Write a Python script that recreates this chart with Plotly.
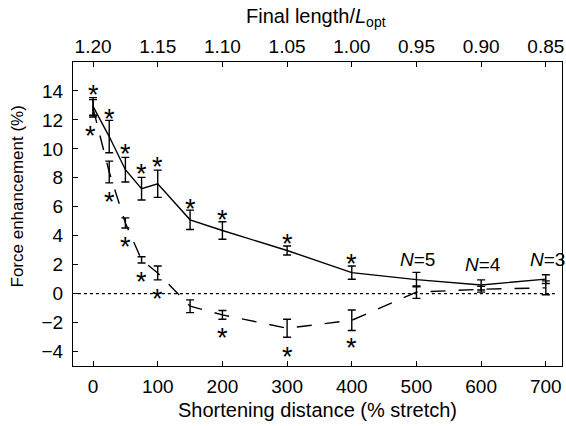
import plotly.graph_objects as go

# Data
distance = [0, 25, 50, 75, 100, 150, 200, 300, 400, 500, 600, 700]
solid_y = [12.93, 10.85, 8.56, 7.25, 7.59, 5.1, 4.36, 2.98, 1.45, 0.97, 0.6, 1.0]
solid_err = [0.61, 1.12, 0.85, 0.78, 0.94, 0.67, 0.6, 0.31, 0.46, 0.5, 0.35, 0.3]
dashed_y = [12.8, 8.4, 4.88, 2.33, 1.43, -0.87, -1.47, -2.39, -1.84, 0.1, 0.3, 0.4]
dashed_err = [0.6, 0.75, 0.35, 0.22, 0.48, 0.44, 0.3, 0.62, 0.71, 0.43, 0.2, 0.48]

star_above_x = [0, 25, 50, 75, 100, 150, 200, 300, 400]
star_above_y = [14.17, 12.55, 10.14, 8.72, 9.22, 6.35, 5.59, 3.93, 2.55]
star_below_x = [-4.6, 25, 50, 75, 100, 200, 300, 400]
star_below_y = [11.4, 6.8, 3.72, 1.29, 0.14, -2.59, -3.86, -3.28]

n_labels = ["N=5", "N=4", "N=3"]
n_x = [502, 603, 703]
n_y = [2.37, 1.98, 2.37]

bottom_ticks = [0, 100, 200, 300, 400, 500, 600, 700]
top_labels = ["1.20", "1.15", "1.10", "1.05", "1.00", "0.95", "0.90", "0.85"]
y_ticks = [-4, -2, 0, 2, 4, 6, 8, 10, 12, 14]

FONT = "Liberation Sans, Arial, Helvetica, sans-serif"
TICK = 19
fig = go.Figure()

fig.add_trace(go.Scatter(
    x=distance, y=dashed_y, mode="lines",
    line=dict(color="black", width=1.4, dash="15px,13px"),
    error_y=dict(type="data", array=dashed_err, color="black", thickness=1.4, width=4),
    showlegend=False))
fig.add_trace(go.Scatter(
    x=distance, y=solid_y, mode="lines",
    line=dict(color="black", width=1.4),
    error_y=dict(type="data", array=solid_err, color="black", thickness=1.4, width=4),
    showlegend=False))
# invisible trace on top axis
fig.add_trace(go.Scatter(x=[0], y=[0], xaxis="x2", mode="markers",
                         marker=dict(opacity=0), showlegend=False, hoverinfo="skip"))

for xs, ys in [(star_above_x, star_above_y), (star_below_x, star_below_y)]:
    for xv, yv in zip(xs, ys):
        fig.add_annotation(x=xv, y=yv, text="*", showarrow=False,
                           xanchor="center", yanchor="middle",
                           font=dict(family=FONT, size=27, color="black"),
                           yshift=-7)

for t, xv, yv in zip(n_labels, n_x, n_y):
    a, b = t.split("=")
    fig.add_annotation(x=xv, y=yv, text=f"<i>{a}</i>={b}", showarrow=False,
                       xanchor="center", yanchor="middle",
                       font=dict(family=FONT, size=19, color="black"))

fig.add_shape(type="line", xref="paper", x0=0.01, x1=0.99, yref="y", y0=0, y1=0,
              line=dict(color="black", width=1.2, dash="dot"))

# axis titles
fig.add_annotation(xref="paper", yref="paper", x=0.501, y=-0.1447,
                   xanchor="center", yanchor="middle",
                   text="Shortening distance (% stretch)", showarrow=False,
                   font=dict(family=FONT, size=20, color="black"))
fig.add_annotation(xref="paper", yref="paper", x=0.496, y=1.148,
                   xanchor="center", yanchor="middle",
                   text="Final length/<i>L</i><sub>opt</sub>", showarrow=False,
                   font=dict(family=FONT, size=20, color="black"))
fig.add_annotation(xref="paper", yref="paper", x=-0.1125, y=0.5576, textangle=-90,
                   xanchor="center", yanchor="middle",
                   text="Force enhancement (%)", showarrow=False,
                   font=dict(family=FONT, size=17, color="black"))

axis_common = dict(showline=True, linecolor="black", linewidth=1, ticks="inside",
                   ticklen=5, tickcolor="black", showgrid=False, zeroline=False,
                   automargin=False,
                   tickfont=dict(family=FONT, size=TICK, color="black"))

fig.update_layout(
    width=566, height=426,
    margin=dict(l=73, r=4, t=62, b=60),
    plot_bgcolor="white", paper_bgcolor="white",
    font=dict(family=FONT, size=16, color="black"),
    xaxis=dict(range=[-31, 725], tickvals=bottom_ticks, ticklabelstandoff=3, **axis_common),
    xaxis2=dict(range=[-31, 725], overlaying="x", side="top", tickvals=bottom_ticks,
                ticktext=top_labels, **axis_common),
    yaxis=dict(range=[-5, 16], tickvals=y_ticks, mirror=True, ticklabelstandoff=5,
               ticktext=[str(v).replace("-", "\u2212") for v in y_ticks], **axis_common),
)

fig.write_html("out.html", config={"displayModeBar": False},
               post_script="document.body.style.margin='0';document.body.style.padding='0';")
